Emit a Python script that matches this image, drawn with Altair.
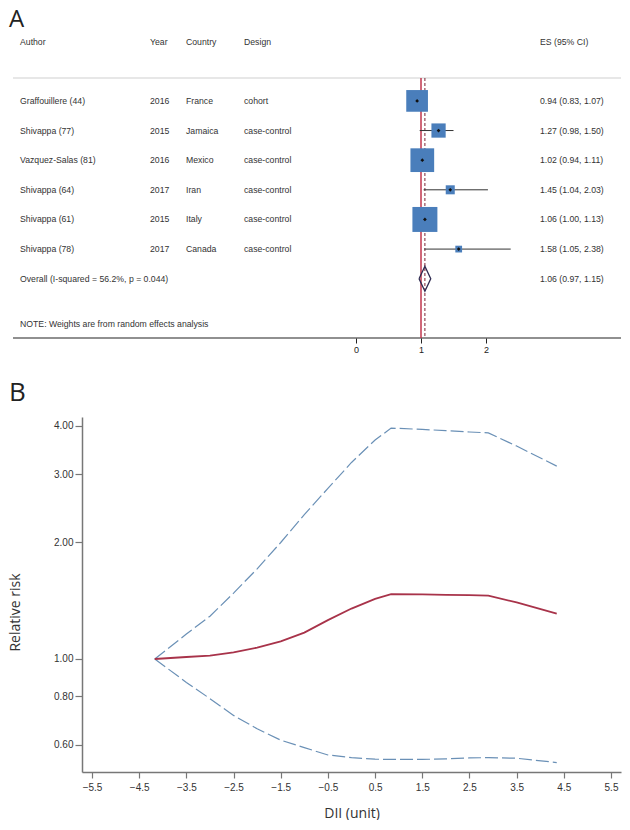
import altair as alt
import pandas as pd

# ---------------- Panel A data (forest plot) ----------------
authors = ["Graffouillere (44)", "Shivappa (77)", "Vazquez-Salas (81)",
           "Shivappa (64)", "Shivappa (61)", "Shivappa (78)"]
years = ["2016", "2015", "2016", "2017", "2015", "2017"]
countries = ["France", "Jamaica", "Mexico", "Iran", "Italy", "Canada"]
designs = ["cohort", "case-control", "case-control", "case-control",
           "case-control", "case-control"]
es = [0.94, 1.27, 1.02, 1.45, 1.06, 1.58]
lo = [0.83, 0.98, 0.94, 1.04, 1.00, 1.05]
hi = [1.07, 1.50, 1.11, 2.03, 1.13, 2.38]
weights = [23.7, 10.2, 28.3, 4.1, 31.4, 2.3]  # % (random effects)

overall_label = "Overall  (I-squared = 56.2%, p = 0.044)"
overall_es, overall_lo, overall_hi = 1.06, 0.97, 1.15
note = "NOTE: Weights are from random effects analysis"
headers = ["Author", "Year", "Country", "Design", "ES (95% CI)"]
x_ticks_a = [0, 1, 2]

# ---------------- Panel B data (dose-response) ----------------
dii = [-4.17, -3.5, -3.0, -2.5, -2.0, -1.5, -1.0, -0.5, 0.0, 0.5, 0.84,
       1.5, 2.0, 2.5, 2.9, 3.5, 4.35]
rr = [1.00, 1.012, 1.02, 1.04, 1.07, 1.11, 1.17, 1.26, 1.35, 1.43, 1.47,
      1.468, 1.465, 1.462, 1.458, 1.40, 1.31]
rr_hi = [1.00, 1.16, 1.29, 1.48, 1.71, 2.00, 2.36, 2.76, 3.22, 3.68, 3.95,
         3.92, 3.89, 3.86, 3.84, 3.55, 3.15]
rr_lo = [1.00, 0.87, 0.79, 0.715, 0.66, 0.617, 0.59, 0.565, 0.556, 0.551, 0.550,
         0.550, 0.552, 0.555, 0.556, 0.554, 0.54]
x_ticks_b = [-5.5, -4.5, -3.5, -2.5, -1.5, -0.5, 0.5, 1.5, 2.5, 3.5, 4.5, 5.5]
y_ticks_b = [0.6, 0.8, 1.0, 2.0, 3.0, 4.0]

# ---------------- tables ----------------
n = len(authors)
studies = pd.DataFrame({
    "row": list(range(n)), "author": authors, "year": years,
    "country": countries, "design": designs, "es": es, "lo": lo, "hi": hi,
    "weight": weights,
})
studies["es_txt"] = [f"{e:.2f} ({l:.2f}, {h:.2f})" for e, l, h in zip(es, lo, hi)]

text_rows = pd.DataFrame({
    "row": list(range(n + 1)),
    "author": authors + [overall_label],
    "year": years + [""],
    "country": countries + [""],
    "design": designs + [""],
    "es_txt": list(studies["es_txt"]) + [f"{overall_es:.2f} ({overall_lo:.2f}, {overall_hi:.2f})"],
})

dh = 0.42
diamond = pd.DataFrame({
    "x": [overall_lo, overall_es, overall_hi, overall_es, overall_lo],
    "row": [n, n - dh, n, n + dh, n],
    "ord": [0, 1, 2, 3, 4],
})

FONT = "Liberation Sans"
TXT = "#333333"
FS = 8.7
WA = 539

xscale_a = alt.Scale(domain=[-4.2154, 4.0769], nice=False, zero=False)
xaxis_a = alt.Axis(values=x_ticks_a, domain=False, grid=False, ticks=True,
                   tickSize=5, tickColor="#222222", labelFontSize=9,
                   labelColor="#222222", labelFont=FONT, labelPadding=2,
                   title=None, format="d")
yscale_a = alt.Scale(domain=[-3.1345, 8], reverse=True, nice=False, zero=False)
Ya = alt.Y("row:Q", scale=yscale_a, axis=None)

base_txt = alt.Chart(text_rows)
col_layers = []
for field, xp in [("author", -62), ("year", 68), ("country", 104),
                  ("design", 162), ("es_txt", 458)]:
    col_layers.append(
        base_txt.mark_text(align="left", baseline="middle", font=FONT,
                           fontSize=FS, color=TXT)
        .encode(x=alt.value(xp), y=Ya, text=f"{field}:N")
    )

hdr_df = pd.DataFrame({"h": headers})
hdr_layers = []
for i, xp in enumerate([-62, 68, 104, 162, 458]):
    hdr_layers.append(
        alt.Chart(hdr_df.iloc[[i]]).mark_text(
            align="left", baseline="middle", font=FONT, fontSize=FS, color=TXT)
        .encode(x=alt.value(xp), y=alt.value(34), text="h:N")
    )

note_layer = alt.Chart(pd.DataFrame({"t": [note]})).mark_text(
    align="left", baseline="middle", font=FONT, fontSize=FS, color=TXT
).encode(x=alt.value(-62), y=alt.value(316), text="t:N")

a_label = alt.Chart(pd.DataFrame({"t": ["A"]})).mark_text(
    align="left", baseline="alphabetic", font="Open Sans", fontSize=24,
    color="#222222"
).encode(x=alt.value(-73), y=alt.value(19), text="t:N")

gray_line = alt.Chart(pd.DataFrame({"k": [0]})).mark_rule(
    color="#cfcfcf", strokeWidth=1
).encode(x=alt.value(-69), x2=alt.value(WA), y=alt.value(70))

axis_line = alt.Chart(pd.DataFrame({"k": [0]})).mark_rule(
    color="#222222", strokeWidth=1.2
).encode(x=alt.value(-69), x2=alt.value(WA), y=alt.value(330))

null_line = alt.Chart(pd.DataFrame({"v": [1.0]})).mark_rule(
    color="#c1364c", strokeWidth=1.5
).encode(x=alt.X("v:Q", scale=xscale_a, axis=xaxis_a),
         y=alt.value(70), y2=alt.value(330))

pooled_line = alt.Chart(pd.DataFrame({"v": [overall_es]})).mark_rule(
    color="#7a2333", strokeWidth=1, strokeDash=[3, 2]
).encode(x=alt.X("v:Q", scale=xscale_a, axis=xaxis_a),
         y=alt.value(70), y2=alt.value(330))

ci = alt.Chart(studies).mark_rule(color="#333333", strokeWidth=1).encode(
    x=alt.X("lo:Q", scale=xscale_a, axis=xaxis_a), x2="hi:Q", y=Ya)

boxes = alt.Chart(studies).mark_square(color="#4a7ebb", opacity=1).encode(
    x=alt.X("es:Q", scale=xscale_a, axis=xaxis_a), y=Ya,
    size=alt.Size("weight:Q", scale=alt.Scale(domain=[0, 100], range=[0, 1988]),
                  legend=None))

dots = alt.Chart(studies).mark_point(filled=True, shape="diamond", size=14,
                                     color="#111111", opacity=1).encode(
    x=alt.X("es:Q", scale=xscale_a, axis=xaxis_a), y=Ya)

dia = alt.Chart(diamond).mark_line(color="#2e2a50", strokeWidth=1.3).encode(
    x=alt.X("x:Q", scale=xscale_a, axis=xaxis_a), y=Ya, order="ord:Q")

top = alt.layer(
    gray_line, axis_line, null_line, pooled_line, ci, boxes, dots, dia,
    *col_layers, *hdr_layers, note_layer, a_label
).properties(width=WA, height=330)

# ---------------- Panel B ----------------
curve = pd.DataFrame({
    "dii": dii * 3,
    "rr": rr + rr_lo + rr_hi,
    "series": ["est"] * len(dii) + ["lo"] * len(dii) + ["hi"] * len(dii),
})

xscale_b = alt.Scale(domain=[-5.712, 5.712], nice=False, zero=False)
yscale_b = alt.Scale(type="log", domain=[0.5105, 4.22], nice=False)
xaxis_b = alt.Axis(values=x_ticks_b, format=".1f", grid=False, tickSize=6,
                   tickColor="#777777", domainColor="#777777", domainWidth=1.5,
                   tickWidth=1.2, labelFontSize=10, labelColor="#333333",
                   labelFont=FONT, labelPadding=4, title="DII (unit)",
                   titleFont="Open Sans", titleFontSize=14,
                   titleFontWeight="normal", titleColor="#333333",
                   titlePadding=14)
yaxis_b = alt.Axis(values=y_ticks_b, format=".2f", grid=False, tickSize=7,
                   tickColor="#777777", domainColor="#777777", domainWidth=1.5,
                   tickWidth=1.2, labelFontSize=10, labelColor="#333333",
                   labelFont=FONT, labelPadding=2, title="Relative risk",
                   titleFont="Open Sans", titleFontSize=14,
                   titleFontWeight="normal", titleColor="#333333",
                   titleAngle=270, titleX=-74, titleY=195, titleBaseline="top",
                   titleAlign="center")

est_line = alt.Chart(curve[curve.series == "est"]).mark_line(
    color="#a8334a", strokeWidth=1.8
).encode(x=alt.X("dii:Q", scale=xscale_b, axis=xaxis_b),
         y=alt.Y("rr:Q", scale=yscale_b, axis=yaxis_b))

ci_lines = alt.Chart(curve[curve.series != "est"]).mark_line(
    color="#6a90b6", strokeWidth=1.2, strokeDash=[13, 4]
).encode(x=alt.X("dii:Q", scale=xscale_b, axis=xaxis_b),
         y=alt.Y("rr:Q", scale=yscale_b, axis=yaxis_b), detail="series:N")

b_label = alt.Chart(pd.DataFrame({"t": ["B"]})).mark_text(
    align="left", baseline="alphabetic", font="Open Sans", fontSize=26,
    color="#222222"
).encode(x=alt.value(-73), y=alt.value(-16), text="t:N")

bottom = alt.layer(ci_lines, est_line, b_label).properties(width=539, height=355)

chart = alt.vconcat(top, bottom, spacing=26).properties(
    padding=0, background="white"
).configure_view(stroke=None)

chart.save("out.html", embed_options={"renderer": "svg", "actions": False})
